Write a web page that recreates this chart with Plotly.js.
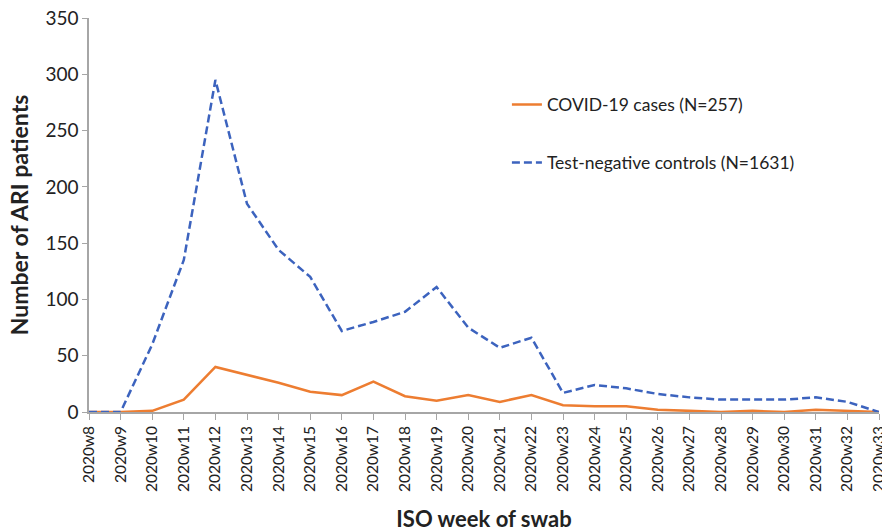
<!DOCTYPE html>
<html>
<head>
<meta charset="utf-8">
<script src="https://cdn.plot.ly/plotly-3.0.1.min.js"></script>
<style>html,body{margin:0;padding:0;background:#fff;}#chart{width:882px;height:532px;}</style>
</head>
<body>
<div id="chart"></div>
<script>
const weeks = ["2020w8","2020w9","2020w10","2020w11","2020w12","2020w13","2020w14","2020w15","2020w16","2020w17","2020w18","2020w19","2020w20","2020w21","2020w22","2020w23","2020w24","2020w25","2020w26","2020w27","2020w28","2020w29","2020w30","2020w31","2020w32","2020w33"];
const covidCases = [0,0,1,11,40,33,26,18,15,27,14,10,15,9,15,6,5,5,2,1,0,1,0,2,1,0];
const testNegControls = [0,0,60,135,295,185,144,120,72,80,89,111,75,57,66,17,24,21,16,13,11,11,11,13,9,0];
const yTicks = [0,50,100,150,200,250,300,350];

const FONT = "Lato, 'Open Sans', sans-serif";

const traces = [
  {
    x: weeks, y: covidCases, type: "scatter", mode: "lines",
    name: "COVID-19 cases (N=257)",
    line: {color: "#ED7D31", width: 2.5},
    legend: "legend"
  },
  {
    x: weeks, y: testNegControls, type: "scatter", mode: "lines",
    name: "Test-negative controls (N=1631)",
    line: {color: "#3C63BE", width: 2.5, dash: "8px,4px"},
    legend: "legend2"
  }
];

const legendFont = {size: 17.5, family: FONT, color: "#222"};
const layout = {
  width: 882, height: 532,
  margin: {l: 89, r: 3, t: 18, b: 120},
  paper_bgcolor: "#fff", plot_bgcolor: "#fff",
  font: {family: FONT, color: "#222", size: 15},
  showlegend: true,
  legend: {x: 0.529, y: 0.78, xanchor: "left", yanchor: "middle", bgcolor: "rgba(0,0,0,0)", font: legendFont},
  legend2: {x: 0.529, y: 0.633, xanchor: "left", yanchor: "middle", bgcolor: "rgba(0,0,0,0)", font: legendFont},
  xaxis: {
    type: "category", range: [0, weeks.length - 1],
    showgrid: false, zeroline: false,
    showline: true, linecolor: "#a6a6a6", linewidth: 1.5,
    ticks: "outside", ticklen: 6, tickcolor: "#a6a6a6",
    tickangle: -90, tickfont: {size: 15.5, family: FONT, color: "#222"},
    automargin: false,
    title: {text: "<b>ISO week of swab</b>", font: {size: 22, family: FONT, color: "#222"}, standoff: 21}
  },
  yaxis: {
    range: [0, 350], tickvals: yTicks,
    showgrid: false, zeroline: false,
    showline: true, linecolor: "#a6a6a6", linewidth: 1.5,
    ticks: "outside", ticklen: 5, tickcolor: "#a6a6a6",
    tickfont: {size: 19, family: FONT, color: "#222"},
    automargin: false,
    title: {text: "<b>Number of ARI patients</b>", font: {size: 23, family: FONT, color: "#222"}, standoff: 10}
  }
};

Plotly.newPlot("chart", traces, layout, {displayModeBar: false, responsive: false});
</script>
</body>
</html>
